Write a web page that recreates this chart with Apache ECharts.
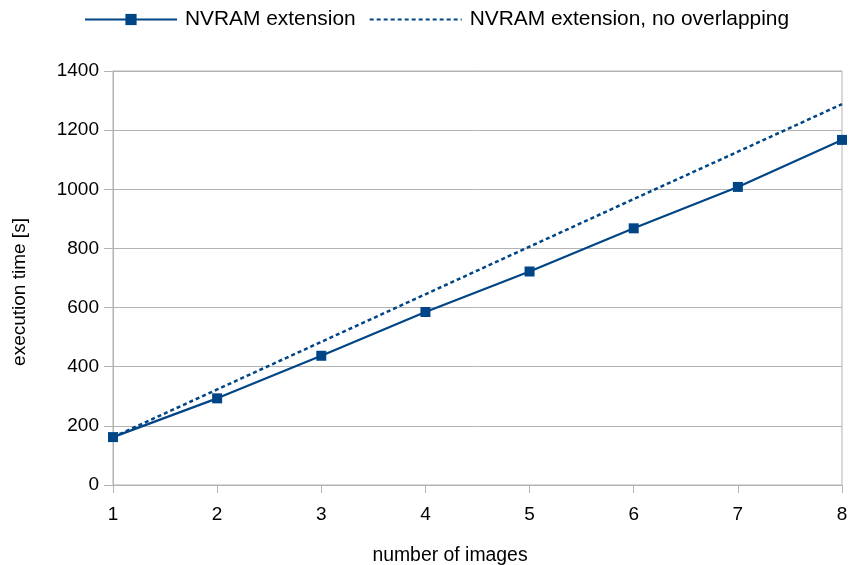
<!DOCTYPE html>
<html>
<head>
<meta charset="utf-8">
<script src="https://cdn.jsdelivr.net/npm/echarts@6/dist/echarts.min.js"></script>
<style>
html,body{margin:0;padding:0;background:#fff;}
#chart{width:850px;height:565px;}
</style>
</head>
<body>
<div id="chart"></div>
<script>
const images = [1, 2, 3, 4, 5, 6, 7, 8];
const nvram = [162, 293, 437, 585, 722, 868, 1008, 1167];
const nvramNoOverlap = [162, 323, 484, 645, 806, 967, 1127, 1288];
const yTicks = [0, 200, 400, 600, 800, 1000, 1200, 1400];
const seriesNames = ['NVRAM extension', 'NVRAM extension, no overlapping'];
const xName = 'number of images';
const yName = 'execution time [s]';

const FONT = '"Liberation Sans", Arial, sans-serif';
const BLUE = '#004586';
const GRAY = '#b3b3b3';

const chart = echarts.init(document.getElementById('chart'), null, {renderer: 'canvas'});
chart.setOption({
  animation: false,
  backgroundColor: '#fff',
  textStyle: {fontFamily: FONT},
  legend: {
    top: 4,
    left: 79,
    itemWidth: 92,
    itemHeight: 14,
    itemGap: 13,
    textStyle: {fontFamily: FONT, fontSize: 20.9, color: '#000', padding: [0, 0, 0, 3]},
    data: [
      {name: seriesNames[0]},
      {name: seriesNames[1], itemStyle: {color: 'rgba(0,0,0,0)', borderColor: 'rgba(0,0,0,0)', borderWidth: 0, opacity: 0}}
    ]
  },
  grid: {
    left: 113, right: 8, top: 71, bottom: 80,
    containLabel: false,
    outerBoundsMode: 'none',
    show: true, borderColor: GRAY, borderWidth: 1
  },
  xAxis: {
    type: 'value',
    min: images[0], max: images[images.length - 1], interval: 1,
    name: xName,
    nameLocation: 'middle',
    nameGap: 61,
    nameTextStyle: {fontFamily: FONT, fontSize: 19.4, color: '#000', padding: [0, 55, 0, 0]},
    axisLine: {show: true, lineStyle: {color: GRAY, width: 1}},
    axisTick: {show: true, length: 8, lineStyle: {color: GRAY}},
    axisLabel: {fontFamily: FONT, fontSize: 19, color: '#000', margin: 20},
    splitLine: {show: false}
  },
  yAxis: {
    type: 'value',
    min: yTicks[0], max: yTicks[yTicks.length - 1], interval: yTicks[1] - yTicks[0],
    name: yName,
    nameLocation: 'middle',
    nameGap: 84,
    nameTextStyle: {fontFamily: FONT, fontSize: 19, color: '#000', padding: [0, 28, 0, 0]},
    axisLine: {show: true, lineStyle: {color: GRAY, width: 1}},
    axisTick: {show: true, length: 9, lineStyle: {color: GRAY}},
    axisLabel: {fontFamily: FONT, fontSize: 19, color: '#000', margin: 14, formatter: v => String(v)},
    splitLine: {show: true, lineStyle: {color: GRAY, width: 1}}
  },
  series: [
    {
      name: seriesNames[0],
      type: 'line',
      data: images.map((x, i) => [x, nvram[i]]),
      symbol: 'rect',
      symbolSize: 10,
      showAllSymbol: true,
      itemStyle: {color: BLUE},
      lineStyle: {color: BLUE, width: 2.2},
      z: 3
    },
    {
      name: seriesNames[1],
      type: 'line',
      data: images.map((x, i) => [x, nvramNoOverlap[i]]),
      symbol: 'none',
      itemStyle: {color: BLUE},
      lineStyle: {color: BLUE, width: 2.5, type: [4, 3]},
      z: 2
    }
  ]
});
</script>
</body>
</html>
